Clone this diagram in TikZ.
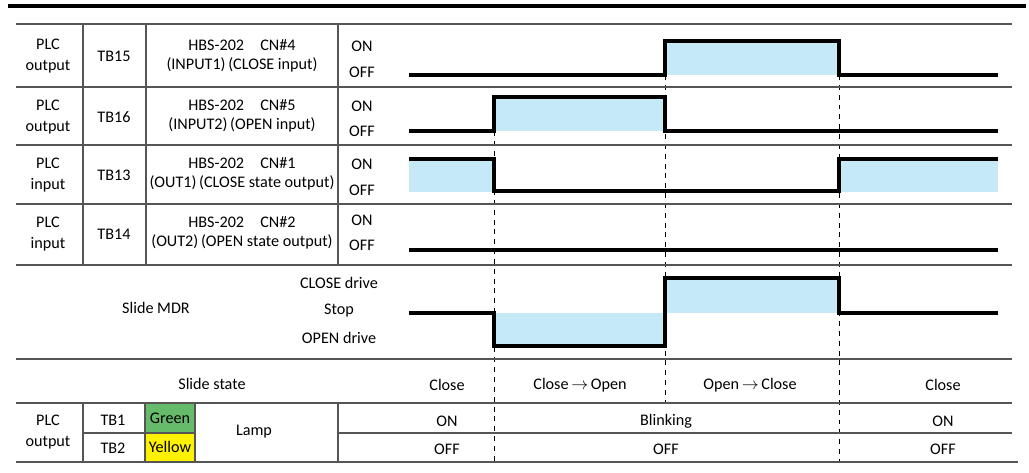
\documentclass[tikz,border=0pt]{standalone}
\usepackage{fontspec}
\setmainfont{Carlito}
\usetikzlibrary{positioning}
\definecolor{waveblue}{HTML}{C6E9F8}
\definecolor{gridgray}{HTML}{555555}
\definecolor{lampgreen}{HTML}{66BB6A}
\definecolor{lampyellow}{HTML}{FFF200}

\begin{document}
\begin{tikzpicture}[x=0.025cm, y=-0.025cm,
  font=\fontsize{11.5}{13.5}\selectfont,
  every node/.style={inner sep=0pt, align=center},
  grid/.style={gridgray, line width=0.8pt},
  wave/.style={black, line width=2.2pt, line join=miter},
  guide/.style={black, line width=0.6pt, dash pattern=on 3.5pt off 3.5pt}]
\useasboundingbox (0,0) rectangle (1029,472);

% blue areas under the active levels
\fill[waveblue] (665,41) rectangle (839,75);
\fill[waveblue] (494,97) rectangle (665,131);
\fill[waveblue] (409,159) rectangle (494,192);
\fill[waveblue] (839,159) rectangle (998,192);
\fill[waveblue] (494,313) rectangle (665,346);
\fill[waveblue] (665,278) rectangle (839,313);
\fill[lampgreen] (145,403) rectangle (195,433);
\fill[lampyellow] (145,433) rectangle (195,462);

% timing guides
\draw[guide] (494,131) -- (494,462);
\draw[guide] (665,75) -- (665,403);
\draw[guide] (839,75) -- (839,462);

% table
\draw[black, line width=2.2pt] (8,6) -- (1026,6);
\draw[grid] (16,24) -- (1012,24);
\draw[grid] (16,87) -- (1012,87);
\draw[grid] (16,145) -- (1012,145);
\draw[grid] (16,204) -- (1012,204);
\draw[grid] (16,265) -- (1012,265);
\draw[grid] (16,359) -- (1012,359);
\draw[grid] (16,403) -- (1012,403);
\draw[grid] (83,433) -- (195,433);
\draw[grid] (338,433) -- (1012,433);
\draw[grid] (16,462) -- (1018,462);
\draw[grid] (83,24) -- (83,265);
\draw[grid] (146,24) -- (146,265);
\draw[grid] (338,24) -- (338,265);
\draw[grid] (83,403) -- (83,462);
\draw[grid] (145,403) -- (145,462);
\draw[grid] (195,403) -- (195,462);
\draw[grid] (338,403) -- (338,462);

% signals
\draw[wave] (409,75) -- (665,75) -- (665,41) -- (839,41) -- (839,75) -- (998,75);
\draw[wave] (409,131) -- (494,131) -- (494,97) -- (665,97) -- (665,131) -- (998,131);
\draw[wave] (409,159) -- (494,159) -- (494,191) -- (839,191) -- (839,159) -- (998,159);
\draw[wave] (409,250) -- (998,250);
\draw[wave] (409,313) -- (494,313) -- (494,346) -- (665,346) -- (665,278) -- (839,278)
  -- (839,313) -- (998,313);

% row labels
\node (plc15) at (48,56) {PLC\\[1.5pt]output};
\node (tb15) at (114,56) {TB15};
\node (cn4) at (242,56) {HBS-202\hspace{1em}CN\#4\\(INPUT1)\,(CLOSE input)};
\node (on15) at (362,46) {ON};
\node (off15) at (362,72) {OFF};

\node (plc16) at (48,117) {PLC\\[1.5pt]output};
\node (tb16) at (114,117) {TB16};
\node (cn5) at (242,116) {HBS-202\hspace{1em}CN\#5\\(INPUT2)\,(OPEN input)};
\node (on16) at (362,106) {ON};
\node (off16) at (362,131) {OFF};

\node (plc13) at (48,175) {PLC\\[1.5pt]input};
\node (tb13) at (114,175) {TB13};
\node (cn1) at (242,174) {HBS-202\hspace{1em}CN\#1\\(OUT1)\,(CLOSE state output)};
\node (on13) at (362,164) {ON};
\node (off13) at (362,190) {OFF};

\node (plc14) at (48,234) {PLC\\[1.5pt]input};
\node (tb14) at (114,234) {TB14};
\node (cn2) at (242,233) {HBS-202\hspace{1em}CN\#2\\(OUT2)\,(OPEN state output)};
\node (on14) at (362,220) {ON};
\node (off14) at (362,245) {OFF};

\node (mdr) at (156,308) {Slide MDR};
\node (cdrive) at (339,283) {CLOSE drive};
\node (stop) at (339,311) {Stop};
\node (odrive) at (339,338) {OPEN drive};

\node (state) at (212,384) {Slide state};
\node (st1) at (447,385) {Close};
\node (st2) at (580,385) {Close\,$\rightarrow$\,Open};
\node (st3) at (750,385) {Open\,$\rightarrow$\,Close};
\node (st4) at (943,385) {Close};

\node (plclamp) at (48,432) {PLC\\[1.5pt]output};
\node (tb1) at (113,420) {TB1};
\node (tb2) at (113,448) {TB2};
\node (green) at (170,418) {Green};
\node (yellow) at (170,447) {Yellow};
\node (lamp) at (254,432) {Lamp};
\node (g1) at (447,421) {ON};
\node (g2) at (666,421) {Blinking};
\node (g3) at (943,421) {ON};
\node (y1) at (447,449) {OFF};
\node (y2) at (666,449) {OFF};
\node (y3) at (943,449) {OFF};
\end{tikzpicture}
\end{document}
